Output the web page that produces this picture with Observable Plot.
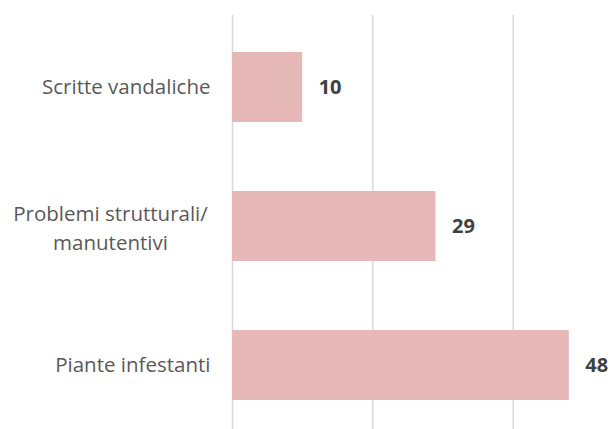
<!DOCTYPE html>
<html>
<head>
<meta charset="utf-8">
<script src="https://cdn.jsdelivr.net/npm/d3@7"></script>
<script src="https://cdn.jsdelivr.net/npm/@observablehq/plot@0.6"></script>
<style>
  html, body { margin: 0; padding: 0; background: #fff; }
  #chart svg { display: block; }
</style>
</head>
<body>
<div id="chart"></div>
<script>
const categories = ["Scritte vandaliche", "Problemi strutturali/\nmanutentivi", "Piante infestanti"];
const values = [10, 29, 48];
const xTicks = [0, 20, 40];

const data = categories.map((c, i) => ({category: c, value: values[i], multi: c.includes("\n")}));

const font = "'Open Sans', sans-serif";

const chart = Plot.plot({
  width: 613,
  height: 429,
  marginTop: 15,
  marginBottom: 0,
  marginLeft: 232,
  marginRight: 0,
  style: {fontFamily: font, background: "#fff"},
  x: {domain: [0, 60], range: [232, 653], axis: null},
  y: {domain: categories, paddingInner: 0.5, paddingOuter: 0.2286, align: 0.5625, axis: null},
  marks: [
    Plot.ruleX(xTicks, {stroke: "#d9d9d9", strokeWidth: 1.5}),
    Plot.barX(data, {x: "value", y: "category", fill: "#e6b8b7"}),
    Plot.text(data, {x: "value", y: "category", text: d => String(d.value), textAnchor: "start", dx: 16,
      fontWeight: "bold", fontSize: 20, fill: "#404040"}),
    Plot.text(data.filter(d => !d.multi), {x: () => 0, y: "category", text: "category", textAnchor: "end", dx: -22,
      fontSize: 20.5, fill: "#595959"}),
    Plot.text(data.filter(d => d.multi), {x: () => 0, y: "category", text: "category", textAnchor: "middle", dx: -122,
      fontSize: 20.5, lineHeight: 1.42, fill: "#595959"})
  ]
});
document.getElementById("chart").append(chart);
</script>
</body>
</html>
